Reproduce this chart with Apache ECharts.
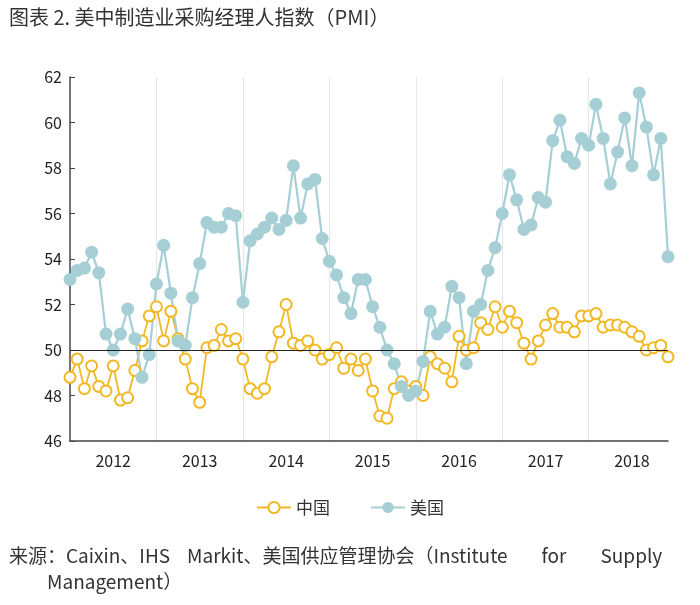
<!DOCTYPE html>
<html><head><meta charset="utf-8">
<script src="https://cdn.jsdelivr.net/npm/echarts@6/dist/echarts.min.js"></script>
<style>body{margin:0;background:#fff}#c{width:700px;height:605px}</style>
</head><body><div id="c"></div>
<script>
const years = [2012,2013,2014,2015,2016,2017,2018];
const china = [48.8,49.6,48.3,49.3,48.4,48.2,49.3,47.8,47.9,49.1,50.4,51.5,51.9,50.4,51.7,50.5,49.6,48.3,47.7,50.1,50.2,50.9,50.4,50.5,
49.6,48.3,48.1,48.3,49.7,50.8,52.0,50.3,50.2,50.4,50.0,49.6,49.8,50.1,49.2,49.6,49.1,49.6,48.2,47.1,47.0,48.3,48.6,48.2,
48.4,48.0,49.7,49.4,49.2,48.6,50.6,50.0,50.1,51.2,50.9,51.9,51.0,51.7,51.2,50.3,49.6,50.4,51.1,51.6,51.0,51.0,50.8,51.5,
51.5,51.6,51.0,51.1,51.1,51.0,50.8,50.6,50.0,50.1,50.2,49.7];
const usa = [53.1,53.5,53.6,54.3,53.4,50.7,50.0,50.7,51.8,50.5,48.8,49.8,52.9,54.6,52.5,50.4,50.2,52.3,53.8,55.6,55.4,55.4,56.0,55.9,
52.1,54.8,55.1,55.4,55.8,55.3,55.7,58.1,55.8,57.3,57.5,54.9,53.9,53.3,52.3,51.6,53.1,53.1,51.9,51.0,50.0,49.4,48.4,48.0,
48.2,49.5,51.7,50.7,51.0,52.8,52.3,49.4,51.7,52.0,53.5,54.5,56.0,57.7,56.6,55.3,55.5,56.7,56.5,59.2,60.1,58.5,58.2,59.3,
59.0,60.8,59.3,57.3,58.7,60.2,58.1,61.3,59.8,57.7,59.3,54.1];
const months = [];
years.forEach(y => { for (let m = 1; m <= 12; m++) months.push(y + '-' + m); });
const chart = echarts.init(document.getElementById('c'));
const F = '"Noto Sans CJK SC","Noto Sans",sans-serif';
chart.setOption({
  animation: false,
  textStyle: {fontFamily: F},
  title: [
    {text: '图表 2. 美中制造业采购经理人指数（PMI）', left: 4, top: 2, textStyle: {fontSize: 20, fontWeight: 'normal', color: '#333', fontFamily: F}},
    {text: '来源：Caixin、IHS    Markit、美国供应管理协会（Institute        for        Supply', left: 4, top: 541, textStyle: {fontSize: 19, fontWeight: 'normal', color: '#333', fontFamily: F}},
    {text: 'Management）', left: 42, top: 567, textStyle: {fontSize: 19, fontWeight: 'normal', color: '#333', fontFamily: F}}
  ],
  legend: {bottom: 84, left: 'center', itemGap: 40, itemWidth: 34, itemHeight: 14, textStyle: {fontSize: 17, color: '#333'},
    data: ['中国', '美国']},
  grid: {left: 70, right: 32, top: 77, bottom: 164},
  xAxis: {type: 'category', data: months, boundaryGap: false,
    axisLine: {lineStyle: {color: '#444', width: 1.5}}, axisTick: {show: false},
    axisLabel: {interval: i => i % 12 === 6, formatter: v => v.split('-')[0], fontSize: 16, color: '#222', margin: 12},
    splitLine: {show: true, interval: i => i % 12 === 0 && i > 0, lineStyle: {color: '#e6e6e6', width: 1.2}}},
  yAxis: {type: 'value', min: 46, max: 62, interval: 2,
    axisLine: {show: true, lineStyle: {color: '#444', width: 1.5}}, axisTick: {show: true, inside: true, length: 5, lineStyle: {color: '#444'}},
    axisLabel: {fontSize: 16, color: '#222'}, splitLine: {show: false}},
  series: [
    {name: '中国', type: 'line', data: china, symbol: 'circle', symbolSize: 11, showAllSymbol: true,
      itemStyle: {color: '#fff', borderColor: '#F2B824', borderWidth: 2}, lineStyle: {color: '#F2B824', width: 1.8},
      markLine: {silent: true, symbol: 'none', label: {show: false}, lineStyle: {color: '#222', type: 'solid', width: 1}, data: [{yAxis: 50}]}},
    {name: '美国', type: 'line', data: usa, symbol: 'circle', symbolSize: 13, showAllSymbol: true,
      itemStyle: {color: '#A5CFD5'}, lineStyle: {color: '#A5CFD5', width: 2.2}}
  ]
});
</script></body></html>
